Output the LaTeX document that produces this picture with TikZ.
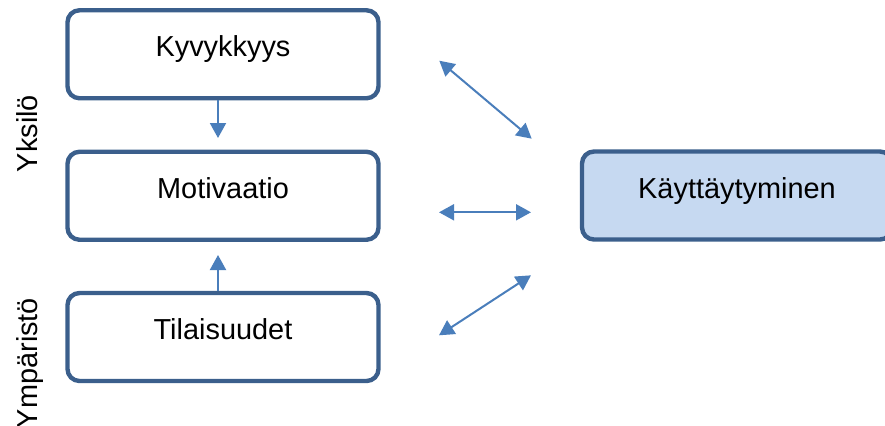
\documentclass[tikz,border=0pt]{standalone}
\usepackage{fontspec}
\setmainfont{Liberation Sans}
\usetikzlibrary{arrows.meta}
\definecolor{boxline}{HTML}{3B5F8C}
\definecolor{arrowblue}{HTML}{4A7EBB}
\definecolor{boxfill}{HTML}{C6D9F1}
\begin{document}
\begin{tikzpicture}[x=0.5pt,y=-0.5pt,
  box/.style={draw=boxline, line width=2.2pt, rounded corners=6pt,
    minimum width=155.5pt, minimum height=44pt, inner sep=0pt,
    font=\fontsize{14.45pt}{17pt}\selectfont, text height=10pt, text depth=7.5pt},
  link/.style={arrowblue, line width=1pt, -{Triangle[length=7.5pt,width=8pt]}},
  twoway/.style={arrowblue, line width=1pt,
    {Triangle[length=7.5pt,width=8pt]}-{Triangle[length=7.5pt,width=8pt]}},
  side/.style={rotate=90, anchor=base, inner sep=0pt,
    font=\fontsize{14.45pt}{17pt}\selectfont}]
\useasboundingbox (0,0) rectangle (885,425);

% boxes
\node[box] (K) at (223,54.25) {Kyvykkyys};
\node[box] (M) at (223,195.75) {Motivaatio};
\node[box] (T) at (223,337) {Tilaisuudet};
\node[box, fill=boxfill, minimum width=155pt] (B) at (737,195.5) {Käyttäytyminen};

% side labels
\node[side] (yks) at (38,133.5) {Yksilö};
\node[side] (ymp) at (38,363) {Ympäristö};

% arrows into Motivaatio
\coordinate (kTip) at (218,138);
\coordinate (tTip) at (218,255);
\draw[link] (K.south -| kTip) -- (kTip);
\draw[link] (T.north -| tTip) -- (tTip);

% two-way arrows towards the behaviour box
\coordinate (a1) at (439.3,60.7);
\coordinate (b1) at (531.7,138.7);
\coordinate (a2) at (439,212.3);
\coordinate (b2) at (531,212.3);
\coordinate (a3) at (439,335.3);
\coordinate (b3) at (531,275.3);
\draw[twoway] (a1) -- (b1);
\draw[twoway] (a2) -- (b2);
\draw[twoway] (a3) -- (b3);
\end{tikzpicture}
\end{document}
